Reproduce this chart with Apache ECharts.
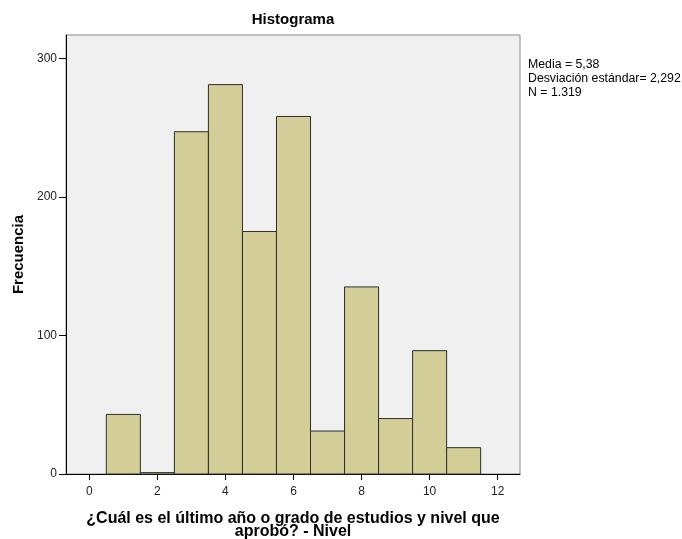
<!DOCTYPE html>
<html>
<head>
<meta charset="utf-8">
<script src="https://cdn.jsdelivr.net/npm/echarts@6/dist/echarts.min.js"></script>
<style>html,body{margin:0;padding:0;background:#fff;}#c{width:682px;height:539px;}</style>
</head>
<body>
<div id="c"></div>
<script>
// Data
const binCenters = [1, 2, 3, 4, 5, 6, 7, 8, 9, 10, 11];
const frequencies = [43, 1, 247, 281, 175, 258, 31, 135, 40, 89, 19];
const xTickValues = [0, 2, 4, 6, 8, 10, 12];
const yTickValues = [0, 100, 200, 300];
const statsLines = ['Media = 5,38', 'Desviación estándar= 2,292', 'N = 1.319'];
const titleText = 'Histograma';
const xAxisTitle = '¿Cuál es el último año o grado de estudios y nivel que\naprobó? - Nivel';
const yAxisTitle = 'Frecuencia';

const FONT = '"Liberation Sans", Arial, sans-serif';
const chart = echarts.init(document.getElementById('c'), null, {renderer: 'canvas'});

chart.setOption({
  animation: false,
  backgroundColor: '#ffffff',
  grid: {
    left: 66, right: 162, top: 35, bottom: 65,
    show: true, backgroundColor: '#F0F0F0', borderColor: '#8a8a8a', borderWidth: 1,
    outerBoundsMode: 'none'
  },
  xAxis: {
    type: 'value', min: -0.685, max: 12.656,
    splitLine: {show: false},
    axisLine: {show: true, onZero: false, lineStyle: {color: '#000', width: 1}},
    axisTick: {show: true, length: 6, customValues: xTickValues, lineStyle: {color: '#000'}},
    axisLabel: {customValues: xTickValues, margin: 12, fontSize: 12, color: '#222', fontFamily: FONT},
    name: xAxisTitle, nameLocation: 'middle', nameGap: 38,
    nameTextStyle: {fontSize: 16, fontWeight: 'bold', color: '#000', fontFamily: FONT, lineHeight: 13}
  },
  yAxis: {
    type: 'value', min: 0, max: 316.8,
    splitLine: {show: false},
    axisLine: {show: true, onZero: false, lineStyle: {color: '#000', width: 1}},
    axisTick: {show: true, length: 7, customValues: yTickValues, lineStyle: {color: '#000'}},
    axisLabel: {customValues: yTickValues, margin: 9, fontSize: 12, color: '#222', fontFamily: FONT},
    name: yAxisTitle, nameLocation: 'middle', nameGap: 38,
    nameTextStyle: {fontSize: 15, fontWeight: 'bold', color: '#000', fontFamily: FONT}
  },
  graphic: [
    {type: 'text', x: 293, y: 20, style: {text: titleText, font: 'bold 15px ' + FONT, fill: '#000', textAlign: 'center', textVerticalAlign: 'middle'}},
    {type: 'text', x: 528, y: 58, style: {text: statsLines.join('\n'), font: '12.3px ' + FONT, fill: '#000', lineHeight: 14, textAlign: 'left', textVerticalAlign: 'top'}}
  ],
  series: [{
    type: 'custom',
    data: binCenters.map((c, i) => [c, frequencies[i]]),
    encode: {x: 0, y: 1},
    renderItem: function (params, api) {
      const x = api.value(0), y = api.value(1);
      const p0 = api.coord([x - 0.5, y]);
      const p1 = api.coord([x + 0.5, 0]);
      return {
        type: 'rect',
        shape: {x: p0[0], y: p0[1], width: p1[0] - p0[0], height: p1[1] - p0[1]},
        style: {fill: '#D3CE97', stroke: '#2e2e2e', lineWidth: 1}
      };
    }
  }]
});
</script>
</body>
</html>
